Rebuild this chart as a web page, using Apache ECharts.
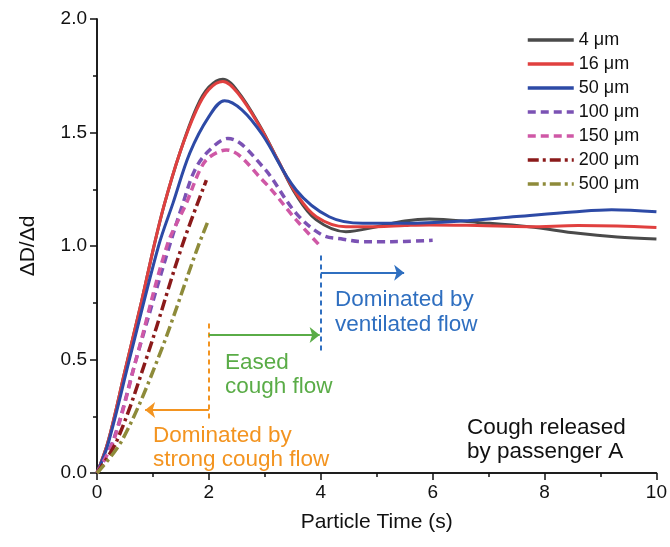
<!DOCTYPE html>
<html>
<head>
<meta charset="utf-8">
<script src="https://cdn.jsdelivr.net/npm/echarts@6/dist/echarts.min.js"></script>
<style>
  html, body { margin: 0; padding: 0; background: #fff; }
  #chart { width: 670px; height: 547px; }
</style>
</head>
<body>
<div id="chart"></div>
<script>
// 曲线数据 (x = particle time, y = ΔD/Δd)
const names = ['4 μm', '16 μm', '50 μm', '100 μm', '150 μm', '200 μm', '500 μm']

const tSmall = [0, 0.2, 0.5, 0.8, 1.0, 1.2, 1.48, 1.78, 2.0, 2.25, 2.52, 2.91, 3.23, 3.56, 3.92, 4.45, 5.0, 5.5, 5.94, 6.8, 7.72, 8.6, 9.3, 10]
const d4 = [0, 0.14, 0.45, 0.76, 0.98, 1.18, 1.41, 1.61, 1.70, 1.735, 1.68, 1.53, 1.38, 1.225, 1.115, 1.063, 1.085, 1.11, 1.119, 1.104, 1.085, 1.056, 1.04, 1.031]
const d16 = [0, 0.14, 0.45, 0.76, 0.98, 1.18, 1.41, 1.60, 1.69, 1.725, 1.673, 1.526, 1.379, 1.232, 1.129, 1.085, 1.085, 1.09, 1.093, 1.09, 1.085, 1.09, 1.088, 1.082]

const t50 = [0, 0.2, 0.59, 1.1, 1.36, 1.66, 2.0, 2.28, 2.59, 2.96, 3.56, 4.15, 4.75, 5.5, 6.5, 7.5, 8.5, 9.2, 10]
const d50 = [0, 0.13, 0.51, 1.0, 1.19, 1.41, 1.57, 1.64, 1.60, 1.489, 1.247, 1.129, 1.10, 1.10, 1.11, 1.13, 1.15, 1.16, 1.151]

const t100 = [0, 0.3, 0.71, 1.27, 1.54, 1.75, 2.0, 2.34, 2.96, 3.56, 4.03, 4.4, 4.75, 5.04, 5.5, 6.0]
const d100 = [0, 0.15, 0.51, 0.98, 1.19, 1.335, 1.42, 1.474, 1.35, 1.144, 1.048, 1.03, 1.019, 1.019, 1.02, 1.025]

const t150 = [0, 0.3, 0.71, 1.25, 1.60, 1.84, 2.0, 2.31, 2.96, 3.56, 3.975]
const d150 = [0, 0.145, 0.51, 1.0, 1.19, 1.335, 1.39, 1.423, 1.29, 1.115, 1.004]

const t200 = [0, 0.36, 0.89, 1.52, 1.955]
const d200 = [0, 0.145, 0.51, 1.0, 1.29]

const t500 = [0, 0.45, 1.1, 1.78, 1.98]
const d500 = [0, 0.145, 0.51, 0.98, 1.107]

const xTicks = [0, 2, 4, 6, 8, 10]
const yTicks = [0, 0.5, 1.0, 1.5, 2.0]

const colors = ['#4a4a4a', '#e0403f', '#2d4aa6', '#7b52b4', '#cf58a6', '#8b1a1a', '#8e8b3a']
const orange = '#f39420'
const green = '#5aac47'
const blue = '#2f6fc0'

const pairs = (xs, ys) => xs.map((x, i) => [x, ys[i]])

const chart = echarts.init(document.getElementById('chart'))

const lineSeries = (name, data, color, type, width) => ({
  name: name,
  type: 'line',
  data: data,
  smooth: 0.35,
  symbol: 'none',
  lineStyle: { color: color, width: width, type: type, cap: 'butt' },
  itemStyle: { color: color },
  z: 3
})

// 注释用的箭头和虚线
const arrow = (x1, y1, x2, y2, color) => [
  { coord: [x1, y1], lineStyle: { color: color, width: 1.8, type: 'solid' }, symbol: 'none' },
  { coord: [x2, y2], symbol: 'arrow' }
]
const dashV = (x, y1, y2, color) => [
  { coord: [x, y1], lineStyle: { color: color, width: 2, type: [5, 4] } },
  { coord: [x, y2] }
]

const font = '"Liberation Sans", Arial, sans-serif'
const noteFont = '22.5px ' + font

const option = {
  animation: false,
  backgroundColor: '#fff',
  grid: { left: 97, right: 12, top: 19, bottom: 74 },
  legend: {
    data: names,
    orient: 'vertical',
    left: 521,
    top: 26,
    itemWidth: 46,
    itemHeight: 14,
    itemGap: 6,
    itemStyle: { opacity: 0 },
    lineStyle: { width: 3.5 },
    textStyle: { fontSize: 18, color: '#111', fontFamily: font }
  },
  xAxis: [{
    type: 'value',
    min: 0,
    max: 10,
    interval: 2,
    name: 'Particle Time (s)',
    nameLocation: 'middle',
    nameGap: 39,
    nameTextStyle: { fontSize: 21, color: '#111', fontFamily: font },
    axisLine: { lineStyle: { color: '#111', width: 1.5 } },
    axisTick: { inside: false, length: 7, lineStyle: { width: 1.5 } },
    minorTick: { show: true, splitNumber: 2, length: 4, lineStyle: { color: '#111', width: 1.5 } },
    axisLabel: {
      fontSize: 19, color: '#111', fontFamily: font, margin: 10,
      formatter: v => xTicks.includes(v) ? String(v) : ''
    },
    splitLine: { show: false }
  }, {
    type: 'value',
    position: 'top',
    min: 0,
    max: 10,
    interval: 2,
    axisLine: { lineStyle: { color: '#111', width: 1.5 } },
    axisTick: { inside: true, length: 6, lineStyle: { width: 1.5 } },
    minorTick: { show: true, splitNumber: 2, length: 4, lineStyle: { color: '#111', width: 1.5 } },
    axisLabel: { show: false },
    splitLine: { show: false }
  }],
  yAxis: [{
    type: 'value',
    min: 0,
    max: 2,
    interval: 0.5,
    name: 'ΔD/Δd',
    nameLocation: 'middle',
    nameGap: 58,
    nameTextStyle: { fontSize: 21, color: '#111', fontFamily: font },
    axisLine: { show: true, lineStyle: { color: '#111', width: 1.5 } },
    axisTick: { show: true, inside: false, length: 7, lineStyle: { width: 1.5 } },
    minorTick: { show: true, splitNumber: 2, length: 4, lineStyle: { color: '#111', width: 1.5 } },
    axisLabel: {
      fontSize: 19, color: '#111', fontFamily: font, margin: 10,
      formatter: v => yTicks.includes(v) ? v.toFixed(1) : ''
    },
    splitLine: { show: false }
  }, {
    type: 'value',
    position: 'right',
    min: 0,
    max: 2,
    interval: 0.5,
    axisLine: { show: true, lineStyle: { color: '#111', width: 1.5 } },
    axisTick: { show: true, inside: true, length: 6, lineStyle: { width: 1.5 } },
    minorTick: { show: true, splitNumber: 2, length: 4, lineStyle: { color: '#111', width: 1.5 } },
    axisLabel: { show: false },
    splitLine: { show: false }
  }],
  series: [
    lineSeries(names[0], pairs(tSmall, d4), colors[0], 'solid', 3),
    lineSeries(names[1], pairs(tSmall, d16), colors[1], 'solid', 3),
    lineSeries(names[2], pairs(t50, d50), colors[2], 'solid', 3),
    lineSeries(names[3], pairs(t100, d100), colors[3], [8, 5], 3.5),
    lineSeries(names[4], pairs(t150, d150), colors[4], [8, 5], 3.5),
    lineSeries(names[5], pairs(t200, d200), colors[5], [11, 4, 3, 4], 3.5),
    lineSeries(names[6], pairs(t500, d500), colors[6], [11, 4, 3, 4], 3.5),
    {
      name: 'annot',
      type: 'line',
      data: [],
      markLine: {
        silent: true,
        symbol: ['none', 'none'],
        symbolSize: [12, 10],
        label: { show: false },
        data: [
          dashV(2, 0.24, 0.667, orange),
          dashV(4, 0.54, 0.97, blue),
          arrow(2, 0.277, 0.86, 0.277, orange),
          arrow(2, 0.608, 3.98, 0.608, green),
          arrow(4, 0.882, 5.49, 0.882, blue)
        ]
      }
    }
  ],
  graphic: [
    { type: 'text', left: 153, top: 424, style: { text: 'Dominated by\nstrong cough flow', fill: orange, font: noteFont, lineHeight: 24 } },
    { type: 'text', left: 225, top: 351, style: { text: 'Eased\ncough flow', fill: green, font: noteFont, lineHeight: 24 } },
    { type: 'text', left: 335, top: 288, style: { text: 'Dominated by\nventilated flow', fill: blue, font: noteFont, lineHeight: 24.5 } },
    { type: 'text', left: 467, top: 416, style: { text: 'Cough released\nby passenger A', fill: '#111', font: noteFont, lineHeight: 24, align: 'center' } }
  ]
}

chart.setOption(option)
</script>
</body>
</html>
